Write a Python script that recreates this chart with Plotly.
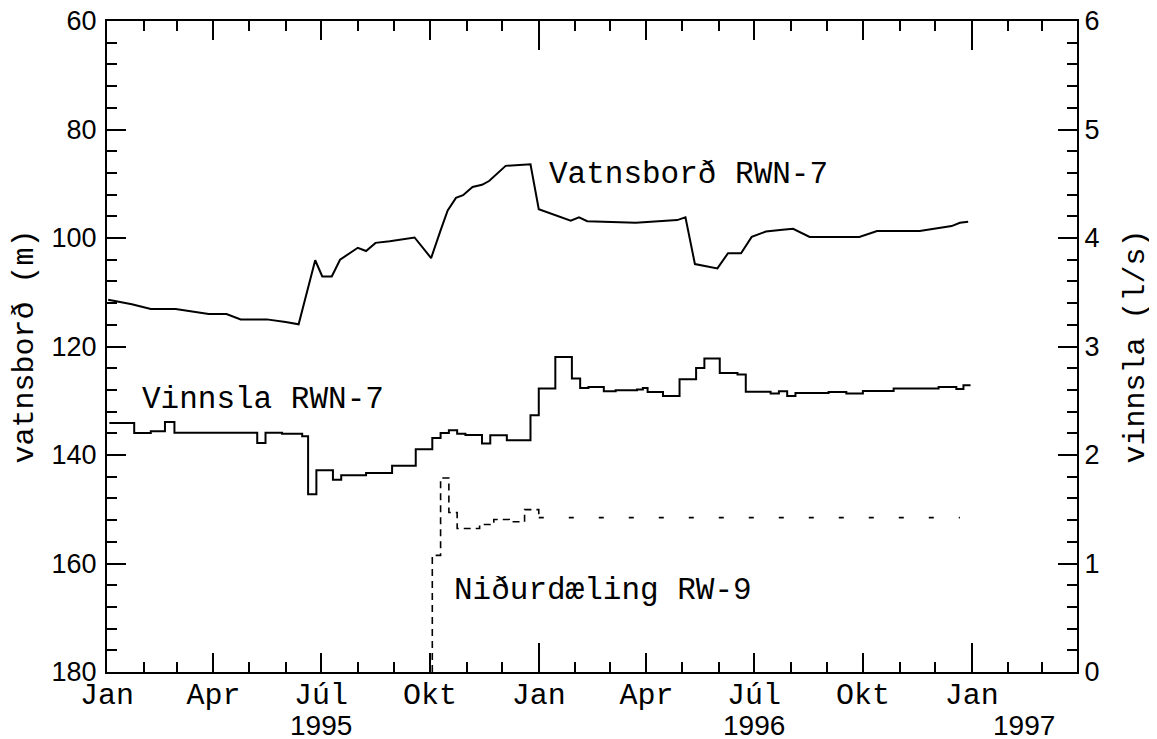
import pandas as pd
import plotly.graph_objects as go

# vatnsborð RWN-7 (m, left axis, inverted)
vatn_dates = ["1995-01-02", "1995-01-22", "1995-02-07", "1995-02-28", "1995-03-28", "1995-04-12",
              "1995-04-24", "1995-05-16", "1995-06-01", "1995-06-12", "1995-06-26", "1995-07-02",
              "1995-07-10", "1995-07-17", "1995-08-01", "1995-08-08", "1995-08-16", "1995-08-28",
              "1995-09-18", "1995-10-02", "1995-10-10", "1995-10-16", "1995-10-23", "1995-10-29",
              "1995-11-06", "1995-11-14", "1995-11-20", "1995-12-04", "1995-12-25", "1996-01-01",
              "1996-01-28", "1996-02-04", "1996-02-11", "1996-03-23", "1996-04-27", "1996-05-04",
              "1996-05-12", "1996-05-31", "1996-06-09", "1996-06-20", "1996-06-29", "1996-07-11",
              "1996-07-25", "1996-08-03", "1996-08-17", "1996-09-28", "1996-10-13", "1996-11-18",
              "1996-12-15", "1996-12-22", "1996-12-29"]
vatn_m = [111.4, 112.2, 113.1, 113.1, 114.0, 114.0, 115.0, 115.0, 115.5, 115.9, 104.1, 107.1,
          107.1, 104.0, 101.8, 102.4, 100.9, 100.6, 99.9, 103.7, 98.6, 94.9, 92.6, 92.1,
          90.6, 90.2, 89.5, 86.7, 86.4, 94.7, 96.8, 96.2, 96.9, 97.2, 96.7, 96.2,
          104.8, 105.6, 102.8, 102.8, 99.8, 98.8, 98.5, 98.3, 99.8, 99.8, 98.7, 98.7,
          97.8, 97.2, 97.0]

# vinnsla RWN-7 (l/s, right axis), stepwise
vinn_dates = ["1995-01-03", "1995-01-24", "1995-02-07", "1995-02-19", "1995-02-27", "1995-05-08",
              "1995-05-15", "1995-05-29", "1995-06-15", "1995-06-20", "1995-06-27", "1995-07-11",
              "1995-07-18", "1995-08-08", "1995-08-30", "1995-09-19", "1995-10-03", "1995-10-10",
              "1995-10-17", "1995-10-24", "1995-10-31", "1995-11-14", "1995-11-21", "1995-12-05",
              "1995-12-25", "1996-01-01", "1996-01-15", "1996-01-29", "1996-02-05", "1996-02-12",
              "1996-02-25", "1996-03-06", "1996-03-24", "1996-03-29", "1996-04-02", "1996-04-15",
              "1996-04-29", "1996-05-13", "1996-05-20", "1996-06-02", "1996-06-17", "1996-06-24",
              "1996-07-15", "1996-07-22", "1996-07-29", "1996-08-05", "1996-09-02", "1996-09-17",
              "1996-10-01", "1996-10-27", "1996-12-04", "1996-12-19", "1996-12-25", "1996-12-31"]
vinn_ls = [2.295, 2.203, 2.218, 2.304, 2.206, 2.110, 2.206, 2.197, 2.172, 1.638, 1.859, 1.773,
           1.813, 1.834, 1.902, 2.052, 2.157, 2.203, 2.228, 2.197, 2.184, 2.105, 2.182, 2.136,
           2.366, 2.612, 2.903, 2.704, 2.617, 2.627, 2.587, 2.596, 2.603, 2.617, 2.580, 2.544,
           2.698, 2.802, 2.889, 2.756, 2.741, 2.584, 2.566, 2.587, 2.544, 2.571, 2.580, 2.566,
           2.590, 2.612, 2.627, 2.608, 2.642, 2.642]

# niðurdæling RW-9 (l/s, right axis), stepwise
nidur_dates = ["1995-10-03", "1995-10-03", "1995-10-10", "1995-10-17", "1995-10-24", "1995-11-12",
               "1995-11-24", "1995-12-07", "1995-12-20", "1996-01-01"]
nidur_ls = [0.0, 1.075, 1.788, 1.47, 1.322, 1.359, 1.405, 1.385, 1.497, 1.423]
nidur_flat_dates = ["1996-01-01", "1996-12-22"]
nidur_flat_ls = [1.423, 1.423]

quarter_ticks = ["1995-01-01", "1995-04-01", "1995-07-01", "1995-10-01", "1996-01-01",
                 "1996-04-01", "1996-07-01", "1996-10-01", "1997-01-01"]
quarter_labels = ["Jan", "Apr", "Júl", "Okt", "Jan", "Apr", "Júl", "Okt", "Jan"]
year_ticks = ["1995-01-01", "1996-01-01", "1997-01-01"]
year_labels = ["1995", "1996", "1997"]
year_label_pos = ["1995-07-01", "1996-07-01", "1997-02-14"]

months = [d.strftime("%Y-%m-%d") for d in pd.date_range("1995-01-01", "1997-03-01", freq="MS")]
minor_months = [m for m in months if m not in quarter_ticks]

MONO = "Liberation Mono"
SANS = "Liberation Sans"

fig = go.Figure()
fig.add_trace(go.Scatter(x=vatn_dates, y=vatn_m, mode="lines", yaxis="y",
                         line=dict(color="black", width=2)))
fig.add_trace(go.Scatter(x=vinn_dates, y=vinn_ls, mode="lines", yaxis="y2", line_shape="hv",
                         line=dict(color="black", width=2)))
fig.add_trace(go.Scatter(x=nidur_dates, y=nidur_ls, mode="lines", yaxis="y2", line_shape="hv",
                         line=dict(color="black", width=1.6, dash="7px,5px")))
fig.add_trace(go.Scatter(x=nidur_flat_dates, y=nidur_flat_ls, mode="lines", yaxis="y2",
                         line=dict(color="black", width=1.6, dash="5px,25px")))
# invisible trace to carry the long yearly ticks
fig.add_trace(go.Scatter(x=year_ticks, y=[None] * 3, xaxis="x2", yaxis="y", showlegend=False))

# the page body adds an 8px offset, so the figure is drawn 8px smaller
xrange = ["1995-01-01", "1997-03-31"]
fig.update_layout(
    width=1149, height=731,
    margin=dict(l=99, r=80, t=13, b=67),
    paper_bgcolor="white", plot_bgcolor="white",
    showlegend=False,
    xaxis=dict(type="date", range=xrange, tickmode="array", tickvals=quarter_ticks,
               ticktext=quarter_labels, ticks="inside", ticklen=19, tickwidth=2, tickcolor="black",
               showline=True, linecolor="black", linewidth=2, mirror="ticks", showgrid=False,
               zeroline=False, automargin=False, ticklabelstandoff=-6, ticklabeloverflow="allow",
               tickfont=dict(family=MONO, size=30, color="black"),
               minor=dict(tickmode="array", tickvals=minor_months, ticks="inside", ticklen=10,
                          tickwidth=1.5, tickcolor="black", showgrid=False)),
    xaxis2=dict(type="date", range=xrange, overlaying="x", anchor="y", tickmode="array",
                tickvals=year_ticks, ticks="inside", ticklen=29, tickwidth=2, tickcolor="black",
                showticklabels=False, showline=False, mirror="ticks", showgrid=False,
                zeroline=False, automargin=False),
    yaxis=dict(range=[180, 60], tickmode="array", tickvals=[60, 80, 100, 120, 140, 160, 180],
               ticks="inside", ticklen=19, tickwidth=2, tickcolor="black",
               showline=True, linecolor="black", linewidth=2, showgrid=False, zeroline=False,
               automargin=False, ticklabelstandoff=3, ticklabeloverflow="allow",
               tickfont=dict(family=SANS, size=27, color="black"),
               title=dict(text="vatnsborð (m)", font=dict(family=MONO, size=30, color="black"),
                          standoff=9),
               minor=dict(dtick=4, tick0=60, ticks="inside", ticklen=10, tickwidth=1.5,
                          tickcolor="black", showgrid=False)),
    yaxis2=dict(range=[0, 6], overlaying="y", side="right", anchor="x", dtick=1,
                ticks="inside", ticklen=19, tickwidth=2, tickcolor="black",
                showline=True, linecolor="black", linewidth=2, showgrid=False, zeroline=False,
                automargin=False, ticklabeloverflow="allow",
                tickfont=dict(family=SANS, size=27, color="black"),
                title=dict(text="vinnsla (l/s)", font=dict(family=MONO, size=30, color="black"),
                           standoff=25),
                minor=dict(dtick=0.2, tick0=0, ticks="inside", ticklen=10, tickwidth=1.5,
                           tickcolor="black", showgrid=False)),
)

for pos, lab in zip(year_label_pos, year_labels):
    fig.add_annotation(x=pos, y=0, xref="x", yref="paper", text=lab, showarrow=False,
                       xanchor="center", yanchor="middle", yshift=-53,
                       font=dict(family=SANS, size=28, color="black"))

labels = [("1996-01-08", 88.3, "Vatnsborð RWN-7"),
          ("1995-01-29", 129.7, "Vinnsla RWN-7"),
          ("1995-10-20", 164.9, "Niðurdæling RW-9")]
for x, y, txt in labels:
    fig.add_annotation(x=x, y=y, xref="x", yref="y", text=txt, showarrow=False,
                       xanchor="left", yanchor="middle",
                       font=dict(family=MONO, size=31, color="black"))

fig.write_html("out.html")
